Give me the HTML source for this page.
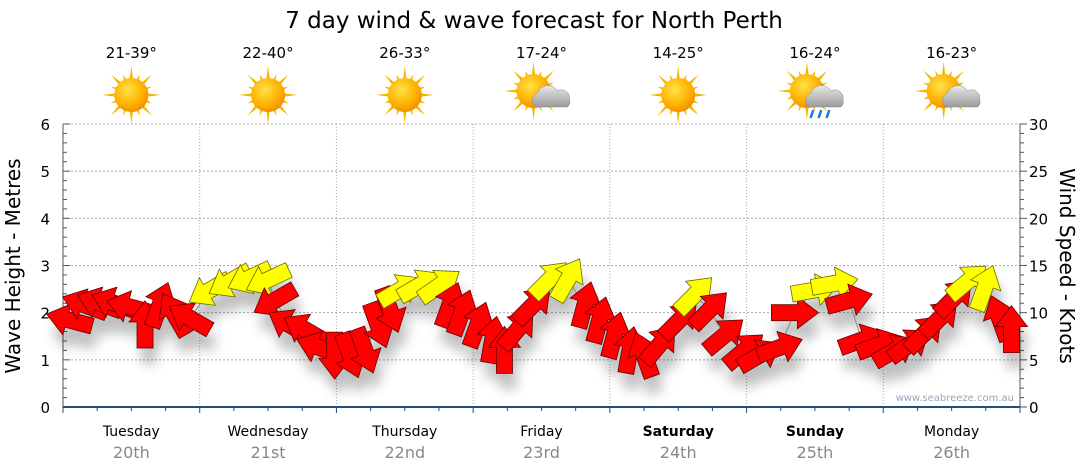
<!DOCTYPE html>
<html><head><meta charset="utf-8">
<style>
body{margin:0;background:#fff;font-family:"DejaVu Sans","Liberation Sans",sans-serif;}
svg{display:block}
</style></head>
<body>
<svg id="chart" width="1080" height="475" viewBox="0 0 1080 475" xmlns="http://www.w3.org/2000/svg" font-family="DejaVu Sans, Liberation Sans, sans-serif">
<defs>
<radialGradient id="sunG" cx="0.4" cy="0.35" r="0.7">
<stop offset="0" stop-color="#ffe14a"/><stop offset="0.6" stop-color="#ffb400"/><stop offset="1" stop-color="#f08a00"/>
</radialGradient>
<linearGradient id="cloudG" x1="0" y1="0" x2="0" y2="1">
<stop offset="0" stop-color="#e8e8e8"/><stop offset="1" stop-color="#9a9a9a"/>
</linearGradient>
<filter id="shadow" x="-50%" y="-50%" width="200%" height="200%">
<feGaussianBlur stdDeviation="6"/>
</filter>
</defs>
<text x="534" y="28" text-anchor="middle" font-size="23" fill="#000">7 day wind &amp; wave forecast for North Perth</text>
<g id="grid"></g>
<g id="axes"></g>
<g id="header"></g>
<g id="shadows" filter="url(#shadow)" opacity="0.25"></g>
<polyline id="windline" fill="none" stroke="#888" stroke-width="1"/>
<g id="arrows"></g>
<text transform="translate(20,266) rotate(-90)" text-anchor="middle" font-size="20">Wave Height - Metres</text>
<text transform="translate(1060,266) rotate(90)" text-anchor="middle" font-size="20">Wind Speed - Knots</text>
<text x="1014" y="401" text-anchor="end" font-size="10" fill="#9aa6b8">www.seabreeze.com.au</text>
</svg>
<script>
const dayNames=["Tuesday","Wednesday","Thursday","Friday","Saturday","Sunday","Monday"];
const dayDates=["20th","21st","22nd","23rd","24th","25th","26th"];
const weekend=[false,false,false,false,true,true,false];
const temps=["21-39°","22-40°","26-33°","17-24°","14-25°","16-24°","16-23°"];
const icons=["sun","sun","sun","cloud","sun","rain","cloud"];
const waveTicks=[0,1,2,3,4,5,6];
const windTicks=[0,5,10,15,20,25,30];
const hours=[1.2,3.9,6.5,9,11.8,14.4,17,19.6,22.3,25.8,29.3,32.8,36,37.2,39.8,42.5,45,47.7,50.4,53,55.3,57.4,59.1,62.6,66.1,67.9,70,72.8,75.4,77.5,79.8,82.5,85.4,88.6,91.6,94.2,96.8,99.5,102,104.7,108.2,110.9,113.5,116.1,119.6,122.3,125.8,128.4,131.9,135.4,138,140.2,143.3,146,148.6,151.2,153.9,156.5,158.8,161.8,164.4,166.5];
const speeds=[9.2,10.8,11,11,10.6,8.7,10.8,9.8,9.4,12.4,13.3,13.7,13.5,11.3,8.7,8.2,6.3,5.5,5.5,6,8.7,10.3,12.4,12.9,12.9,10.8,10,8.7,7.1,6,8.2,10.8,13.5,13.5,10.8,9.2,7.6,6,5.5,6.6,9.2,11.9,10.3,7.6,6,5.5,6.3,10,12.4,13.1,11.3,7.1,6.6,6,6.6,7.8,9.4,11.6,13.3,12.6,9.4,8.2];
const dirs=[285,290,290,290,285,0,20,330,300,240,240,245,245,240,300,300,290,180,160,160,160,160,60,60,55,20,20,20,10,0,40,45,45,30,15,15,15,10,340,40,45,45,45,50,50,60,70,90,80,80,75,70,70,60,55,45,45,45,50,20,340,0];
const gusty=[0,0,0,0,0,0,0,0,0,1,1,1,1,0,0,0,0,0,0,0,0,0,1,1,1,0,0,0,0,0,0,0,1,1,0,0,0,0,0,0,0,1,0,0,0,0,0,0,1,1,0,0,0,0,0,0,0,0,1,1,0,0];

const NS="http://www.w3.org/2000/svg";
const X0=63,X1=1020,Y0=407,Y1=124;
const xH=h=>X0+(X1-X0)*h/168;
const yWave=m=>Y0-(Y0-Y1)*m/6;
const yWind=k=>Y0-(Y0-Y1)*k/30;
function mk(tag,attrs,parent){const e=document.createElementNS(NS,tag);for(const k in attrs)e.setAttribute(k,attrs[k]);parent.appendChild(e);return e;}
const grid=document.getElementById('grid'),axes=document.getElementById('axes'),header=document.getElementById('header');

waveTicks.forEach(m=>{
  if(m>0){const l=mk('line',{x1:X0,x2:X1,y1:yWave(m),y2:yWave(m),stroke:'#aaa','stroke-dasharray':'2,2'},grid);
  }
  const t=mk('text',{x:50,y:yWave(m)+6,'text-anchor':'end','font-size':15,fill:'#000'},axes);t.textContent=m;
  
});
for(let i=0;i<=30;i++){const y=Y0-(Y0-Y1)*i/30;mk('line',{x1:X0,x2:X0+(i%5?4:7),y1:y,y2:y,stroke:'#555'},axes);mk('line',{x1:X1,x2:X1+(i%5?4:7),y1:y,y2:y,stroke:'#555'},axes);}
windTicks.forEach(k=>{const t=mk('text',{x:1029,y:yWind(k)+6,'font-size':15,fill:'#000'},axes);t.textContent=k;
  });
mk('line',{x1:X0,x2:X0,y1:Y1,y2:Y0,stroke:'#555'},axes);
mk('line',{x1:X1,x2:X1,y1:Y1,y2:Y0,stroke:'#555'},axes);
mk('line',{x1:X0,x2:X1,y1:Y0,y2:Y0,stroke:'#1f4f7f','stroke-width':2},axes);
for(let h=0;h<=168;h+=6){mk('line',{x1:xH(h),x2:xH(h),y1:Y0,y2:Y0+(h%24?4:6),stroke:'#1f4f7f'},axes);}

dayNames.forEach((d,i)=>{
  const cx=xH(i*24+12);
  if(i>0){const l=mk('line',{x1:xH(i*24),x2:xH(i*24),y1:Y1,y2:Y0,stroke:'#aaa','stroke-dasharray':'1,2'},grid);
    }
  const t=mk('text',{x:cx,y:436,'text-anchor':'middle','font-size':14,'font-weight':weekend[i]?'bold':'normal'},axes);t.textContent=d;
  
  const t2=mk('text',{x:cx,y:458,'text-anchor':'middle','font-size':16,fill:'#888'},axes);t2.textContent=dayDates[i];
  
  const tt=mk('text',{x:cx,y:58,'text-anchor':'middle','font-size':15},header);tt.textContent=temps[i];
  
  const g=mk('g',{transform:`translate(${cx},95)`},header);
  
  const sx=icons[i]==='sun'?0:-8,sy=icons[i]==='sun'?0:-4;
  for(let r=0;r<16;r++){const a=r*Math.PI/8,L=r%2?22:29;
    mk('polygon',{points:`${sx+Math.cos(a-0.14)*14},${sy+Math.sin(a-0.14)*14} ${sx+Math.cos(a)*L},${sy+Math.sin(a)*L} ${sx+Math.cos(a+0.14)*14},${sy+Math.sin(a+0.14)*14}`,fill:'#f5b800'},g);}
  mk('circle',{cx:sx,cy:sy,r:17,fill:'url(#sunG)'},g);
  if(icons[i]!=='sun'){
    mk('path',{d:'M-6,12 a8,8 0 0 1 2,-14 a11,11 0 0 1 20,-2 a8,8 0 0 1 12,8 a7,7 0 0 1 -2,8 z',fill:'url(#cloudG)',stroke:'#888','stroke-width':0.5},g);
    if(icons[i]==='rain'){[-2,6,14].forEach(dx=>mk('path',{d:`M${dx},16 l-2,6`,stroke:'#1e7fd6','stroke-width':2.5,'stroke-linecap':'round'},g));}
  }
});

const shadows=document.getElementById('shadows'),arrows=document.getElementById('arrows');
const arrowPts="0,-24 16,-3 8,-3 8,23 -8,23 -8,-3 -16,-3";
const pts=[];
hours.forEach((h,i)=>{
  const x=xH(h),y=yWind(speeds[i]);pts.push(x+','+y);
  mk('polygon',{points:arrowPts,fill:'#000',transform:`translate(${x+4},${y+16}) rotate(${dirs[i]})`},shadows);
});
document.getElementById('windline').setAttribute('points',pts.join(' '));
hours.forEach((h,i)=>{
  const x=xH(h),y=yWind(speeds[i]);
  const p=mk('polygon',{points:arrowPts,fill:gusty[i]?'#ffff00':'#ff0000',stroke:gusty[i]?'#6b6b00':'#600','stroke-width':0.8,transform:`translate(${x},${y}) rotate(${dirs[i]})`},arrows);
  
  
});
</script>
</body></html>
